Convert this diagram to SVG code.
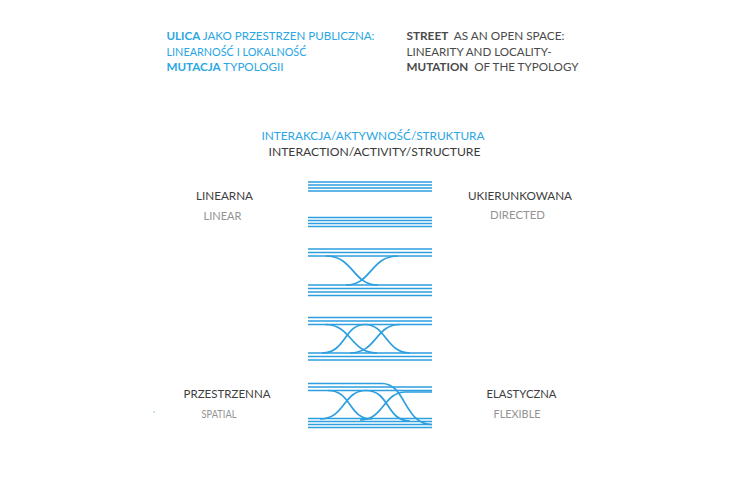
<svg xmlns="http://www.w3.org/2000/svg" width="730" height="480" viewBox="0 0 730 480">
<style>
text{font-family:Lato,"Open Sans","DejaVu Sans",sans-serif;font-size:12px}
.blue{fill:#2aa6e3}
.dark{fill:#4a4a4a}
.light{fill:#939393}
.b{font-weight:bold}
.pre{white-space:pre}
.ln{fill:none;stroke:#2d9fe0;stroke-width:1.7;stroke-linecap:butt}
</style>
<rect width="730" height="480" fill="#ffffff"/>
<g id="title-pl">
<text class="blue" x="166.5" y="40" textLength="208" lengthAdjust="spacingAndGlyphs"><tspan class="b">ULICA</tspan> JAKO PRZESTRZEN PUBLICZNA:</text>
<text class="blue" x="166.5" y="55.5" textLength="140" lengthAdjust="spacingAndGlyphs">LINEARNOŚĆ I LOKALNOŚĆ</text>
<text class="blue" x="166.5" y="71" textLength="117" lengthAdjust="spacingAndGlyphs"><tspan class="b">MUTACJA</tspan> TYPOLOGII</text>
</g>
<g id="title-en">
<text class="dark pre" x="406.5" y="40" textLength="158" lengthAdjust="spacingAndGlyphs"><tspan class="b">STREET</tspan>  AS AN OPEN SPACE:</text>
<text class="dark" x="406.5" y="55.5" textLength="145" lengthAdjust="spacingAndGlyphs">LINEARITY AND LOCALITY-</text>
<text class="dark pre" x="406.5" y="71" textLength="172" lengthAdjust="spacingAndGlyphs"><tspan class="b">MUTATION</tspan>  OF THE TYPOLOGY</text>
</g>
<g id="subtitle">
<text class="blue" x="261.5" y="139.5" textLength="223" lengthAdjust="spacingAndGlyphs">INTERAKCJA/AKTYWNOŚĆ/STRUKTURA</text>
<text fill="#3a3a3a" x="268.5" y="156" textLength="212" lengthAdjust="spacingAndGlyphs">INTERACTION/ACTIVITY/STRUCTURE</text>
</g>
<g id="label-linear">
<text fill="#3e3e3e" x="196" y="199.5" textLength="57" lengthAdjust="spacingAndGlyphs">LINEARNA</text>
<text class="light" x="203.5" y="220" textLength="38" lengthAdjust="spacingAndGlyphs">LINEAR</text>
</g>
<g id="label-directed">
<text fill="#3e3e3e" x="468" y="199.5" textLength="104" lengthAdjust="spacingAndGlyphs">UKIERUNKOWANA</text>
<text class="light" x="490" y="219" textLength="55" lengthAdjust="spacingAndGlyphs">DIRECTED</text>
</g>
<g id="label-spatial">
<text fill="#3e3e3e" x="183.5" y="398" textLength="87" lengthAdjust="spacingAndGlyphs">PRZESTRZENNA</text>
<text class="light" x="201.5" y="418" textLength="35" lengthAdjust="spacingAndGlyphs">SPATIAL</text>
<circle cx="154" cy="412" r="0.8" fill="#7cc4ea"/>
</g>
<g id="label-flexible">
<text fill="#3e3e3e" x="486.5" y="398" textLength="70" lengthAdjust="spacingAndGlyphs">ELASTYCZNA</text>
<text class="light" x="493.5" y="417.5" textLength="47" lengthAdjust="spacingAndGlyphs">FLEXIBLE</text>
</g>
<g id="connectors">
<g id="g1">
<path class="ln" d="M308,182H432M308,185H432M308,188H432M308,191H432"/>
</g>
<g id="g2">
<path class="ln" d="M308,217.5H432M308,220.5H432M308,223.5H432M308,226.5H432"/>
</g>
<g id="g3">
<path class="ln" d="M308,249H432M308,252.5H432M308,256H432"/>
<path class="ln" d="M308,285H432M308,288.5H432M308,292H432M308,295.5H432"/>
<path class="ln" d="M326,256C354,256 352,285 378,285"/>
<path class="ln" d="M398,256C370,256 372,285 346,285"/>
</g>
<g id="g4">
<path class="ln" d="M308,317.5H432M308,321H432M308,324.5H432"/>
<path class="ln" d="M308,353H432M308,356.5H432M308,360H432"/>
<path class="ln" d="M325,324.5C352,324.5 350,353 377,353"/>
<path class="ln" d="M322,353C346,353 344,324.5 365,324.5C386,324.5 386,353 410,353"/>
<path class="ln" d="M400,324.5C375,324.5 377,353 350,353"/>
</g>
<g id="g5">
<path class="ln" d="M308,383.5H382C406,383.5 404,424.5 432,424.5"/>
<path class="ln" d="M308,387H432M308,390.5H432"/>
<path class="ln" d="M308,418.5H432M308,421.5H432M308,427.5H432M308,424.5H432"/>
<path class="ln" d="M328,390.5C352,390.5 348,419 372,419"/>
<path class="ln" d="M320,419C345,419 343,390.5 366,390.5C390,390.5 386,421 410,421"/>
<path class="ln" d="M360,420C384,420 383,392 406,392H432"/>
</g>
</g>
</svg>
